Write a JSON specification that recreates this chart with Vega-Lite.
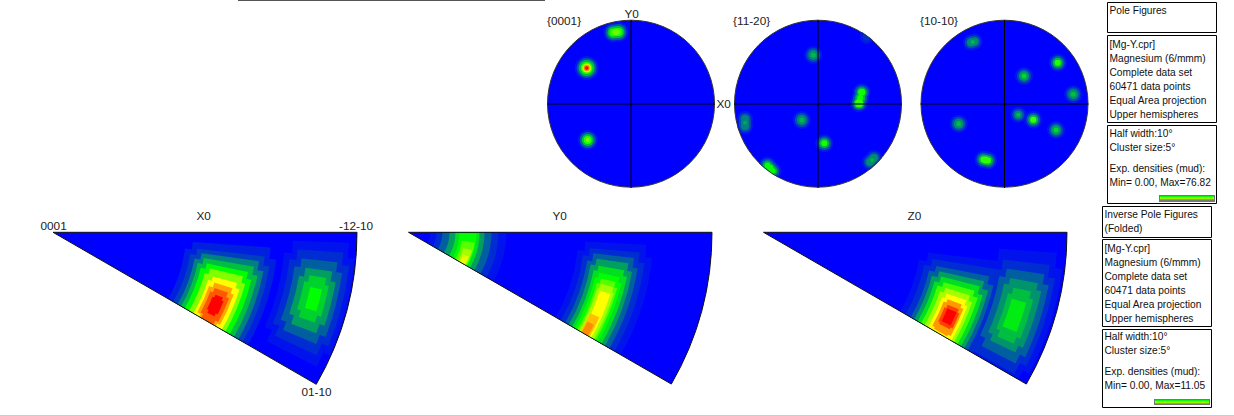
{
"$schema":"https://vega.github.io/schema/vega-lite/v6.json",
"autosize":{"type":"none"},"padding":0,"width":1234,"height":416,"background":"#ffffff",
"config":{"view":{"stroke":null}},
"datasets":{
"panels":[{"p":"X","cx":53,"cy":232.3},{"p":"Y","cx":408.5,"cy":232.3},{"p":"Z","cx":763.5,"cy":232.3}],
"wedge":[{"p":"X","r0":0,"r1":304,"a0":0,"a1":30},{"p":"Y","r0":0,"r1":303.5,"a0":0,"a1":30},{"p":"Z","r0":0,"r1":303.5,"a0":0,"a1":30}],
"cells":[
{"p":"X","r0":0,"r1":304,"a0":0,"a1":30,"v":0},{"p":"Y","r0":0,"r1":303.5,"a0":0,"a1":30,"v":0},{"p":"Z","r0":0,"r1":303.5,"a0":0,"a1":30,"v":0},
{"p":"X","r0":140,"r1":218,"a0":4,"a1":30,"v":0.5},{"p":"X","r0":133,"r1":225,"a0":7,"a1":30,"v":0.5},
{"p":"X","r0":145,"r1":213,"a0":6.5,"a1":30,"v":1},{"p":"X","r0":139,"r1":219,"a0":9,"a1":30,"v":1},
{"p":"X","r0":150,"r1":208,"a0":8,"a1":30,"v":2},{"p":"X","r0":144,"r1":214,"a0":10.5,"a1":30,"v":2},
{"p":"X","r0":153,"r1":204,"a0":9.7,"a1":30,"v":3},{"p":"X","r0":148,"r1":209,"a0":12,"a1":30,"v":3},
{"p":"X","r0":157,"r1":199,"a0":11.5,"a1":30,"v":4},{"p":"X","r0":152,"r1":204,"a0":13.5,"a1":30,"v":4},
{"p":"X","r0":161,"r1":195,"a0":13,"a1":30,"v":5},{"p":"X","r0":157,"r1":199,"a0":15,"a1":30,"v":5},
{"p":"X","r0":166,"r1":191,"a0":15.4,"a1":30,"v":6},{"p":"X","r0":162,"r1":195,"a0":17,"a1":30,"v":6},
{"p":"X","r0":169,"r1":188,"a0":17.3,"a1":30,"v":6.7},{"p":"X","r0":165,"r1":191,"a0":19,"a1":29,"v":6.7},
{"p":"X","r0":171,"r1":185,"a0":19,"a1":30,"v":7.3},{"p":"X","r0":168,"r1":188,"a0":20.5,"a1":28.5,"v":7.3},
{"p":"X","r0":174,"r1":182,"a0":21,"a1":27.5,"v":8},{"p":"X","r0":172,"r1":184,"a0":22,"a1":26.5,"v":8},
{"p":"X","r0":240,"r1":296,"a0":2,"a1":27,"v":0.3},{"p":"X","r0":232,"r1":303,"a0":5,"a1":24,"v":0.3},
{"p":"X","r0":245,"r1":291,"a0":4,"a1":25,"v":0.7},{"p":"X","r0":238,"r1":298,"a0":6.5,"a1":22.5,"v":0.7},
{"p":"X","r0":250,"r1":286,"a0":6,"a1":23,"v":1.5},{"p":"X","r0":244,"r1":292,"a0":8,"a1":21,"v":1.5},
{"p":"X","r0":255,"r1":282,"a0":8,"a1":21,"v":2.5},{"p":"X","r0":250,"r1":287,"a0":10,"a1":19,"v":2.5},
{"p":"X","r0":260,"r1":277,"a0":9.5,"a1":19,"v":3.3},{"p":"X","r0":256,"r1":281,"a0":11,"a1":17.5,"v":3.3},
{"p":"X","r0":263,"r1":275,"a0":12,"a1":16.7,"v":4},
{"p":"Y","r0":22,"r1":98,"a0":0,"a1":30,"v":0.3},{"p":"Y","r0":28,"r1":90,"a0":0,"a1":30,"v":0.7},{"p":"Y","r0":34,"r1":83,"a0":0,"a1":30,"v":1.5},{"p":"Y","r0":41,"r1":76,"a0":0,"a1":30,"v":2.5},{"p":"Y","r0":47,"r1":71,"a0":0,"a1":30,"v":3.5},{"p":"Y","r0":51,"r1":68,"a0":1,"a1":30,"v":4},{"p":"Y","r0":54,"r1":67,"a0":9,"a1":30,"v":4.7},{"p":"Y","r0":57,"r1":66,"a0":16,"a1":30,"v":5.3},{"p":"Y","r0":59,"r1":65,"a0":22,"a1":30,"v":5.8},
{"p":"Y","r0":177,"r1":238,"a0":3,"a1":30,"v":0.3},{"p":"Y","r0":170,"r1":245,"a0":6,"a1":30,"v":0.3},
{"p":"Y","r0":182,"r1":232,"a0":5,"a1":30,"v":0.7},{"p":"Y","r0":176,"r1":238,"a0":7.5,"a1":30,"v":0.7},
{"p":"Y","r0":186,"r1":227,"a0":6.5,"a1":30,"v":1.5},{"p":"Y","r0":181,"r1":232,"a0":9,"a1":30,"v":1.5},
{"p":"Y","r0":190,"r1":222,"a0":8,"a1":30,"v":2.5},{"p":"Y","r0":185,"r1":227,"a0":10,"a1":30,"v":2.5},
{"p":"Y","r0":193,"r1":219,"a0":10,"a1":30,"v":3.5},{"p":"Y","r0":189,"r1":223,"a0":11.5,"a1":30,"v":3.5},
{"p":"Y","r0":195,"r1":216,"a0":12,"a1":30,"v":4},{"p":"Y","r0":192,"r1":219,"a0":13.5,"a1":30,"v":4},
{"p":"Y","r0":198,"r1":213,"a0":13.5,"a1":30,"v":4.7},{"p":"Y","r0":195,"r1":216,"a0":15,"a1":30,"v":4.7},
{"p":"Y","r0":199,"r1":212,"a0":15,"a1":30,"v":5.3},{"p":"Y","r0":197,"r1":214,"a0":16.5,"a1":30,"v":5.3},
{"p":"Y","r0":200,"r1":211,"a0":17,"a1":30,"v":6},{"p":"Y","r0":199,"r1":209,"a0":24,"a1":30,"v":6.5},{"p":"Y","r0":200,"r1":207,"a0":26.5,"a1":30,"v":6.9},
{"p":"Z","r0":166,"r1":240,"a0":7,"a1":30,"v":0.3},{"p":"Z","r0":158,"r1":248,"a0":10,"a1":30,"v":0.3},
{"p":"Z","r0":236,"r1":294,"a0":4,"a1":30,"v":0.3},{"p":"Z","r0":228,"r1":301,"a0":7,"a1":28,"v":0.3},
{"p":"Z","r0":171,"r1":235,"a0":9,"a1":30,"v":0.7},{"p":"Z","r0":164,"r1":242,"a0":11.5,"a1":30,"v":0.7},
{"p":"Z","r0":241,"r1":288,"a0":6.5,"a1":29.5,"v":0.7},{"p":"Z","r0":234,"r1":295,"a0":9,"a1":27,"v":0.7},
{"p":"Z","r0":176,"r1":230,"a0":11,"a1":30,"v":1.5},{"p":"Z","r0":170,"r1":236,"a0":13,"a1":30,"v":1.5},
{"p":"Z","r0":246,"r1":284,"a0":8.5,"a1":27.5,"v":1.5},{"p":"Z","r0":240,"r1":290,"a0":10.5,"a1":25.5,"v":1.5},
{"p":"Z","r0":251,"r1":279,"a0":10.5,"a1":25.5,"v":2.3},{"p":"Z","r0":246,"r1":284,"a0":12,"a1":24,"v":2.3},
{"p":"Z","r0":180,"r1":226,"a0":12.5,"a1":30,"v":2.5},{"p":"Z","r0":174,"r1":232,"a0":14.5,"a1":30,"v":2.5},
{"p":"Z","r0":256,"r1":274,"a0":12.5,"a1":24,"v":3},{"p":"Z","r0":252,"r1":278,"a0":14,"a1":22.5,"v":3},
{"p":"Z","r0":183,"r1":223,"a0":14,"a1":30,"v":3.5},{"p":"Z","r0":178,"r1":228,"a0":16,"a1":30,"v":3.5},
{"p":"Z","r0":257,"r1":272,"a0":15,"a1":21.5,"v":3.7},
{"p":"Z","r0":187,"r1":219,"a0":15.5,"a1":30,"v":4.5},{"p":"Z","r0":182,"r1":224,"a0":17,"a1":30,"v":4.5},
{"p":"Z","r0":190,"r1":216,"a0":17,"a1":30,"v":5.3},{"p":"Z","r0":186,"r1":220,"a0":18.5,"a1":30,"v":5.3},
{"p":"Z","r0":193,"r1":214,"a0":18.5,"a1":30,"v":6},{"p":"Z","r0":190,"r1":217,"a0":20,"a1":30,"v":6},
{"p":"Z","r0":196,"r1":211,"a0":20,"a1":29.5,"v":6.8},{"p":"Z","r0":193,"r1":214,"a0":21,"a1":29,"v":6.8},
{"p":"Z","r0":198,"r1":210,"a0":21.5,"a1":27.5,"v":7.5},{"p":"Z","r0":196,"r1":212,"a0":22.5,"a1":27,"v":7.5},
{"p":"Z","r0":199,"r1":209,"a0":22.5,"a1":26.5,"v":8}
],
"discs":[{"x":631,"y":103.7,"d":167},{"x":818,"y":103.7,"d":167},{"x":1004.5,"y":103.7,"d":167}],
"blobs":[
{"x":613.5,"y":32.5,"d":20,"v":0.4},{"x":618.5,"y":32,"d":20,"v":0.4},{"x":613.5,"y":32.5,"d":16,"v":1.5},{"x":618.5,"y":32,"d":16,"v":1.5},{"x":613.5,"y":32.5,"d":12,"v":3},{"x":618.5,"y":32,"d":12,"v":3},{"x":616,"y":32.2,"d":12,"v":3},{"x":613.5,"y":32.5,"d":8,"v":4.2},{"x":618.5,"y":32,"d":8,"v":4.2},{"x":616,"y":32.2,"d":8,"v":4.2},{"x":616,"y":32.2,"d":6,"v":4.8},{"x":614.5,"y":32.4,"d":5,"v":4.8},{"x":617.5,"y":32,"d":5,"v":4.8},
{"x":586.7,"y":68,"d":24,"v":0.4},{"x":586.7,"y":68,"d":20,"v":1.5},{"x":586.7,"y":68,"d":16,"v":3},{"x":586.7,"y":68,"d":12,"v":4.3},{"x":586.7,"y":68,"d":9,"v":5.5},{"x":586.7,"y":68,"d":6,"v":7},{"x":586.7,"y":68,"d":3.5,"v":8},
{"x":587.7,"y":140,"d":20,"v":0.4},{"x":587.7,"y":140,"d":16,"v":1.5},{"x":587.7,"y":140,"d":12,"v":3},{"x":587.7,"y":140,"d":8,"v":4.3},{"x":587.7,"y":140,"d":4,"v":5},
{"x":813.3,"y":55,"d":18,"v":0.4},{"x":813.3,"y":55,"d":14,"v":1.2},{"x":813.3,"y":55,"d":10,"v":2.2},{"x":813.3,"y":55,"d":5,"v":2.9},
{"x":801.7,"y":120,"d":18,"v":0.4},{"x":801.7,"y":120,"d":14,"v":1.2},{"x":801.7,"y":120,"d":10,"v":2.2},{"x":801.7,"y":120,"d":5,"v":2.9},
{"x":745,"y":119,"d":16,"v":0.4},{"x":745,"y":126,"d":16,"v":0.4},{"x":745,"y":119,"d":12,"v":1.2},{"x":745,"y":126,"d":12,"v":1.2},{"x":745,"y":122.7,"d":12,"v":1.2},{"x":745,"y":119,"d":8,"v":2},{"x":745,"y":126,"d":8,"v":2},{"x":745,"y":122.7,"d":8,"v":2},{"x":745,"y":122.7,"d":4,"v":2.6},
{"x":824.3,"y":143.3,"d":18,"v":0.4},{"x":824.3,"y":143.3,"d":14,"v":1.4},{"x":824.3,"y":143.3,"d":10,"v":2.8},{"x":824.3,"y":143.3,"d":6,"v":4.2},
{"x":767.5,"y":165.5,"d":18,"v":0.4},{"x":772.5,"y":171,"d":18,"v":0.4},{"x":767.5,"y":165.5,"d":14,"v":1.3},{"x":772.5,"y":171,"d":14,"v":1.3},{"x":770,"y":168.3,"d":14,"v":1.3},{"x":767.5,"y":165.5,"d":10,"v":2.6},{"x":772.5,"y":171,"d":10,"v":2.6},{"x":770,"y":168.3,"d":10,"v":2.6},{"x":767.5,"y":165.5,"d":6,"v":4},{"x":772.5,"y":171,"d":6,"v":4},{"x":770,"y":168.3,"d":7,"v":4},
{"x":870,"y":162,"d":16,"v":0.4},{"x":874,"y":158,"d":16,"v":0.4},{"x":870,"y":162,"d":12,"v":1.2},{"x":874,"y":158,"d":12,"v":1.2},{"x":872,"y":160,"d":12,"v":1.2},{"x":870,"y":162,"d":8,"v":2.2},{"x":874,"y":158,"d":8,"v":2.2},{"x":872,"y":160,"d":8,"v":2.2},{"x":872,"y":160,"d":4,"v":2.8},
{"x":866.7,"y":36.7,"d":14,"v":0.4},{"x":866.7,"y":36.7,"d":8,"v":0.8},
{"x":861.7,"y":92.3,"d":18,"v":0.4},{"x":859,"y":103.3,"d":18,"v":0.4},{"x":860.3,"y":98,"d":18,"v":0.4},{"x":861.7,"y":92.3,"d":14,"v":1.4},{"x":859,"y":103.3,"d":14,"v":1.4},{"x":860.3,"y":98,"d":14,"v":1.4},{"x":861.7,"y":92.3,"d":10,"v":2.8},{"x":859,"y":103.3,"d":11,"v":2.8},{"x":860.3,"y":98,"d":10,"v":2.8},{"x":861.7,"y":92.3,"d":7,"v":4.1},{"x":860.3,"y":98,"d":6,"v":4.1},{"x":859,"y":103.3,"d":8,"v":4.4},
{"x":971,"y":42.5,"d":16,"v":0.4},{"x":974.5,"y":41.5,"d":16,"v":0.4},{"x":971,"y":42.5,"d":12,"v":1.2},{"x":974.5,"y":41.5,"d":12,"v":1.2},{"x":972.7,"y":42,"d":12,"v":1.2},{"x":971,"y":42.5,"d":8,"v":2.2},{"x":974.5,"y":41.5,"d":8,"v":2.2},{"x":972.7,"y":42,"d":8,"v":2.2},{"x":972.7,"y":42,"d":4,"v":2.9},
{"x":1057.7,"y":62.7,"d":18,"v":0.4},{"x":1057.7,"y":62.7,"d":14,"v":1.4},{"x":1057.7,"y":62.7,"d":10,"v":2.8},{"x":1057.7,"y":62.7,"d":6,"v":4.3},
{"x":1024,"y":76,"d":18,"v":0.4},{"x":1024,"y":76,"d":14,"v":1.2},{"x":1024,"y":76,"d":10,"v":2.4},{"x":1024,"y":76,"d":5,"v":3.4},
{"x":1073.3,"y":94.3,"d":18,"v":0.4},{"x":1073.3,"y":94.3,"d":14,"v":1.2},{"x":1073.3,"y":94.3,"d":10,"v":2.2},{"x":1073.3,"y":94.3,"d":5,"v":3},
{"x":1018.3,"y":114.7,"d":16,"v":0.4},{"x":1018.3,"y":114.7,"d":12,"v":1.2},{"x":1018.3,"y":114.7,"d":8,"v":2.2},{"x":1018.3,"y":114.7,"d":4,"v":3},
{"x":1033.3,"y":119.7,"d":18,"v":0.4},{"x":1033.3,"y":119.7,"d":14,"v":1.4},{"x":1033.3,"y":119.7,"d":10,"v":2.8},{"x":1033.3,"y":119.7,"d":6,"v":4.5},
{"x":1056,"y":130,"d":18,"v":0.4},{"x":1056,"y":130,"d":14,"v":1.2},{"x":1056,"y":130,"d":10,"v":2.4},{"x":1056,"y":130,"d":5,"v":3.4},
{"x":958.7,"y":123.7,"d":18,"v":0.4},{"x":958.7,"y":123.7,"d":14,"v":1.2},{"x":958.7,"y":123.7,"d":10,"v":2.2},{"x":958.7,"y":123.7,"d":5,"v":3},
{"x":983.5,"y":159.5,"d":18,"v":0.4},{"x":988,"y":160.5,"d":18,"v":0.4},{"x":983.5,"y":159.5,"d":14,"v":1.4},{"x":988,"y":160.5,"d":14,"v":1.4},{"x":983.5,"y":159.5,"d":10,"v":2.8},{"x":988,"y":160.5,"d":10,"v":2.8},{"x":985.7,"y":160,"d":10,"v":2.8},{"x":983.5,"y":159.5,"d":6,"v":4.4},{"x":988,"y":160.5,"d":6,"v":4.4},{"x":985.7,"y":160,"d":7,"v":4.4}
],
"rules":[
{"x":547,"x2":715,"y":104,"y2":104},{"x":734,"x2":902,"y":104,"y2":104},{"x":920.5,"x2":1088.5,"y":104,"y2":104},
{"x":631,"x2":631,"y":20,"y2":188},{"x":818,"x2":818,"y":20,"y2":188},{"x":1004.5,"x2":1004.5,"y":20,"y2":188}
],
"boxes":[
{"x":1107.5,"x2":1216.5,"y":2.5,"y2":32.5},{"x":1107.5,"x2":1216.5,"y":35.5,"y2":122.5},{"x":1107.5,"x2":1216.5,"y":125.5,"y2":203.5},
{"x":1102.5,"x2":1211.5,"y":206.5,"y2":237.5},{"x":1102.5,"x2":1211.5,"y":239.5,"y2":326.5},{"x":1102.5,"x2":1211.5,"y":329.5,"y2":407.5}
],
"bars":[
{"x":1159,"x2":1215,"y":195,"y2":202},{"x":1154,"x2":1210,"y":399,"y2":405}
],
"stripes":[
{"x":1160,"x2":1214,"y":196,"y2":200,"v":4},{"x":1160,"x2":1214,"y":197.2,"y2":198.8,"v":5.6},
{"x":1155,"x2":1209,"y":400,"y2":404,"v":4},{"x":1155,"x2":1209,"y":401.2,"y2":402.8,"v":5.6}
],
"labels":[
{"x":547,"y":25,"t":"{0001}"},{"x":624.5,"y":18,"t":"Y0"},{"x":733,"y":25,"t":"{11-20}"},{"x":716.5,"y":108,"t":"X0"},{"x":920,"y":25,"t":"{10-10}"},
{"x":40.5,"y":230,"t":"0001"},{"x":196.5,"y":220,"t":"X0"},{"x":339,"y":230,"t":"-12-10"},{"x":301.5,"y":396,"t":"01-10"},{"x":552.5,"y":220,"t":"Y0"},{"x":907.5,"y":220,"t":"Z0"}
],
"notes":[
{"x":1109.5,"y":14,"t":"Pole Figures"},
{"x":1109.5,"y":48,"t":"[Mg-Y.cpr]"},{"x":1109.5,"y":62,"t":"Magnesium (6/mmm)"},{"x":1109.5,"y":76,"t":"Complete data set"},{"x":1109.5,"y":90,"t":"60471 data points"},{"x":1109.5,"y":104,"t":"Equal Area projection"},{"x":1109.5,"y":118,"t":"Upper hemispheres"},
{"x":1109.5,"y":137,"t":"Half width:10°"},{"x":1109.5,"y":151,"t":"Cluster size:5°"},{"x":1109.5,"y":172,"t":"Exp. densities (mud):"},{"x":1109.5,"y":186,"t":"Min= 0.00, Max=76.82"},
{"x":1104.5,"y":218,"t":"Inverse Pole Figures"},{"x":1104.5,"y":232,"t":"(Folded)"},
{"x":1104.5,"y":252,"t":"[Mg-Y.cpr]"},{"x":1104.5,"y":266,"t":"Magnesium (6/mmm)"},{"x":1104.5,"y":280,"t":"Complete data set"},{"x":1104.5,"y":294,"t":"60471 data points"},{"x":1104.5,"y":308,"t":"Equal Area projection"},{"x":1104.5,"y":322,"t":"Upper hemispheres"},
{"x":1104.5,"y":340,"t":"Half width:10°"},{"x":1104.5,"y":354,"t":"Cluster size:5°"},{"x":1104.5,"y":375,"t":"Exp. densities (mud):"},{"x":1104.5,"y":389,"t":"Min= 0.00, Max=11.05"}
]
},
"encoding":{
"x":{"field":"x","type":"quantitative","scale":{"domain":[0,1234],"nice":false,"zero":false},"axis":null},
"y":{"field":"y","type":"quantitative","scale":{"domain":[416,0],"nice":false,"zero":false},"axis":null}
},
"layer":[
{"data":{"name":"discs"},"mark":{"type":"point","filled":true,"shape":"circle","opacity":1,"fill":"#0000ff","stroke":null},
 "encoding":{"size":{"field":"d","type":"quantitative","legend":null,"scale":{"type":"pow","exponent":2,"domain":[0,200],"range":[0,40000]}}}},
{"data":{"name":"blobs"},"mark":{"type":"point","filled":true,"shape":"circle","opacity":1,"stroke":null},
 "encoding":{"size":{"field":"d","type":"quantitative","legend":null,"scale":{"type":"pow","exponent":2,"domain":[0,200],"range":[0,40000]}},
 "color":{"field":"v","type":"quantitative","legend":null,"scale":{"domain":[0,4,6,8],"range":["#0000ff","#00ff00","#ffff00","#ff0000"],"interpolate":"rgb"}}}},
{"data":{"name":"discs"},"transform":[{"calculate":"datum.d+10","as":"ring"}],"mark":{"type":"point","filled":false,"shape":"circle","opacity":1,"stroke":"#ffffff","strokeWidth":9},
 "encoding":{"size":{"field":"ring","type":"quantitative","legend":null,"scale":{"type":"pow","exponent":2,"domain":[0,200],"range":[0,40000]}}}},
{"data":{"name":"discs"},"mark":{"type":"point","filled":false,"shape":"circle","opacity":1,"stroke":"#333333","strokeWidth":1},
 "encoding":{"size":{"field":"d","type":"quantitative","legend":null,"scale":{"type":"pow","exponent":2,"domain":[0,200],"range":[0,40000]}}}},
{"data":{"name":"rules"},"mark":{"type":"rule","stroke":"#000000","strokeWidth":1},
 "encoding":{"x2":{"field":"x2"},"y2":{"field":"y2"}}},
{"data":{"name":"cells"},
 "transform":[{"lookup":"p","from":{"data":{"name":"panels"},"key":"p","fields":["cx","cy"]}}],
 "mark":{"type":"arc","stroke":null},
 "encoding":{
  "x":{"field":"cx","type":"quantitative","scale":{"domain":[0,1234],"nice":false,"zero":false},"axis":null},
  "y":{"field":"cy","type":"quantitative","scale":{"domain":[416,0],"nice":false,"zero":false},"axis":null},
  "theta":{"field":"a0","type":"quantitative","stack":null,"scale":{"domain":[0,30],"range":[1.5708,2.0944]}},
  "theta2":{"field":"a1"},
  "radius":{"field":"r0","type":"quantitative","scale":{"type":"linear","domain":[0,304],"range":[0,304],"zero":false,"nice":false}},
  "radius2":{"field":"r1"},
  "color":{"field":"v","type":"quantitative","legend":null,"scale":{"domain":[0,4,6,8],"range":["#0000ff","#00ff00","#ffff00","#ff0000"],"interpolate":"rgb"}}
 }},
{"data":{"name":"wedge"},
 "transform":[{"lookup":"p","from":{"data":{"name":"panels"},"key":"p","fields":["cx","cy"]}}],
 "mark":{"type":"arc","filled":false,"fill":null,"stroke":"#111111","strokeWidth":1},
 "encoding":{
  "x":{"field":"cx","type":"quantitative","scale":{"domain":[0,1234],"nice":false,"zero":false},"axis":null},
  "y":{"field":"cy","type":"quantitative","scale":{"domain":[416,0],"nice":false,"zero":false},"axis":null},
  "theta":{"field":"a0","type":"quantitative","stack":null,"scale":{"domain":[0,30],"range":[1.5708,2.0944]}},
  "theta2":{"field":"a1"},
  "radius":{"field":"r0","type":"quantitative","scale":{"type":"linear","domain":[0,304],"range":[0,304],"zero":false,"nice":false}},
  "radius2":{"field":"r1"}
 }},
{"data":{"name":"boxes"},"mark":{"type":"rect","fill":"#ffffff","stroke":"#000000","strokeWidth":1},
 "encoding":{"x2":{"field":"x2"},"y2":{"field":"y2"}}},
{"data":{"name":"bars"},"mark":{"type":"rect","fill":"#777777"},
 "encoding":{"x2":{"field":"x2"},"y2":{"field":"y2"}}},
{"data":{"name":"stripes"},"mark":{"type":"rect"},
 "encoding":{"x2":{"field":"x2"},"y2":{"field":"y2"},
 "color":{"field":"v","type":"quantitative","legend":null,"scale":{"domain":[0,4,6,8],"range":["#0000ff","#00ff00","#ffff00","#ff0000"],"interpolate":"rgb"}}}},
{"data":{"values":[{"x":238,"x2":545,"y":0.5,"y2":0.5,"c":"top"},{"x":0,"x2":1234,"y":415.5,"y2":415.5,"c":"bottom"}]},"mark":{"type":"rule","strokeWidth":1},
 "encoding":{"x2":{"field":"x2"},"y2":{"field":"y2"},"stroke":{"field":"c","type":"nominal","legend":null,"scale":{"domain":["top","bottom"],"range":["#555555","#cccccc"]}}}},
{"data":{"name":"labels"},"mark":{"type":"text","align":"left","baseline":"alphabetic","font":"Liberation Sans","fontSize":11.8,"fill":"#222222"},
 "encoding":{"text":{"field":"t","type":"nominal"}}},
{"data":{"name":"notes"},"mark":{"type":"text","align":"left","baseline":"alphabetic","font":"Liberation Sans","fontSize":10.2,"fill":"#111111"},
 "encoding":{"text":{"field":"t","type":"nominal"}}}
]
}
